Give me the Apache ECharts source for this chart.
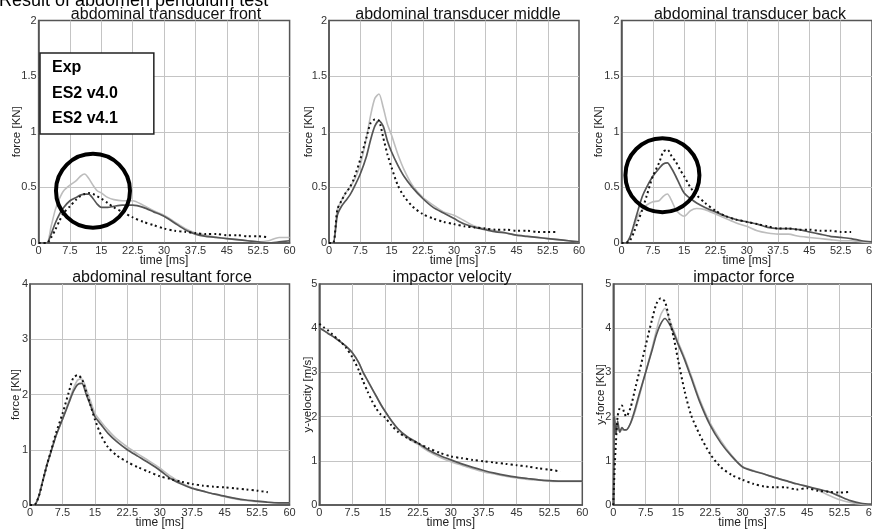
<!DOCTYPE html>
<html>
<head>
<meta charset="utf-8">
<script src="https://cdn.jsdelivr.net/npm/echarts@6/dist/echarts.min.js"></script>
<style>html,body{margin:0;padding:0;background:#fff}#c{width:872px;height:530px}</style>
</head>
<body>
<div id="c"></div>
<script>
// ---------- data ----------
const seriesNames = ['Exp', 'ES2 v4.0', 'ES2 v4.1'];
const xTicks = [0, 7.5, 15, 22.5, 30, 37.5, 45, 52.5, 60];
const panelTitles = ['abdominal transducer front', 'abdominal transducer middle', 'abdominal transducer back',
  'abdominal resultant force', 'impactor velocity', 'impactor force'];
const yNames = ['force [KN]', 'force [KN]', 'force [KN]', 'force [KN]', 'y-velocity [m/s]', 'y-force [KN]'];
const yMax = [2, 2, 2, 4, 5, 5];
const yStep = [0.5, 0.5, 0.5, 1, 1, 1];

const T = [0,1,2,3,4,5,6,7.5,9,10,11,12,13,14,15,16.5,18,20,22.5,25,27.5,30,32.5,35,37.5,40,42.5,45,47.5,50,52.5,55,57.5,60];

const frontExp = [0,0,0,0.05,0.12,0.2,0.27,0.33,0.39,0.42,0.44,0.45,0.44,0.42,0.4,0.36,0.32,0.28,0.23,0.19,0.16,0.13,0.11,0.1,0.09,0.08,0.08,0.07,0.07,0.06,0.06,0.05,null,null];
const frontV40 = [0,0,0,0.15,0.3,0.4,0.47,0.52,0.56,0.6,0.62,0.58,0.52,0.47,0.45,0.41,0.39,0.38,0.38,0.34,0.29,0.25,0.19,0.13,0.09,0.07,0.05,0.04,0.03,0.02,0.01,0.02,0.05,0.05];
const frontV41 = [0,0,0,0.08,0.18,0.26,0.32,0.38,0.41,0.43,0.44,0.44,0.4,0.35,0.32,0.32,0.33,0.34,0.34,0.32,0.28,0.24,0.18,0.12,0.08,0.06,0.05,0.04,0.03,0.02,0.01,0,0.01,0.02];

const middleExp = [0,0,0.3,0.38,0.45,0.5,0.58,0.75,0.95,1.08,1.11,1.1,0.95,0.8,0.68,0.52,0.42,0.33,0.26,0.22,0.19,0.17,0.15,0.14,0.13,0.12,0.12,0.11,0.11,0.1,0.1,0.1,null,null];
const middleV40 = [0,0,0.3,0.38,0.45,0.5,0.56,0.7,0.95,1.15,1.3,1.34,1.22,1.07,0.97,0.8,0.66,0.52,0.41,0.34,0.28,0.25,0.2,0.15,0.13,0.11,0.09,0.07,0.06,0.05,0.04,0.03,0.02,0.01];
const middleV41 = [0,0,0.25,0.33,0.38,0.43,0.5,0.62,0.78,0.93,1.05,1.1,1.05,0.92,0.82,0.7,0.6,0.5,0.4,0.32,0.27,0.22,0.17,0.14,0.12,0.1,0.09,0.07,0.06,0.05,0.04,0.03,0.02,0.01];

const backExp = [0,0,0.02,0.1,0.2,0.3,0.42,0.6,0.72,0.82,0.84,0.78,0.73,0.66,0.6,0.5,0.43,0.36,0.29,0.24,0.21,0.19,0.17,0.15,0.13,0.13,0.12,0.12,0.11,0.11,0.1,0.1,null,null];
const backV40 = [0,0,0.05,0.15,0.25,0.3,0.34,0.37,0.38,0.42,0.44,0.38,0.3,0.26,0.24,0.29,0.31,0.3,0.26,0.22,0.18,0.15,0.11,0.09,0.08,0.08,0.06,0.05,0.04,0.03,0.02,0.02,0.01,0];
const backV41 = [0,0,0.05,0.17,0.3,0.42,0.5,0.6,0.67,0.71,0.72,0.67,0.6,0.52,0.45,0.4,0.36,0.32,0.28,0.24,0.21,0.19,0.17,0.14,0.13,0.13,0.12,0.1,0.08,0.06,0.05,0.04,0.02,0.01];

const resultExp = [0,0,0.15,0.45,0.75,1.02,1.3,1.65,2.05,2.3,2.35,2.28,2.05,1.8,1.55,1.25,1.05,0.9,0.78,0.68,0.6,0.52,0.47,0.42,0.38,0.35,0.33,0.32,0.3,0.28,0.26,0.23,null,null];
const resultV40 = [0,0,0.15,0.45,0.75,1.0,1.25,1.55,1.88,2.1,2.26,2.28,2.1,1.88,1.66,1.5,1.36,1.2,1.05,0.92,0.8,0.67,0.52,0.4,0.31,0.25,0.2,0.15,0.11,0.08,0.06,0.05,0.04,0.04];
const resultV41 = [0,0,0.15,0.45,0.75,1.0,1.25,1.55,1.85,2.05,2.18,2.2,2.0,1.8,1.6,1.45,1.3,1.15,1.0,0.88,0.76,0.63,0.48,0.38,0.3,0.25,0.2,0.16,0.12,0.09,0.07,0.05,0.04,0.04];

const velocityExp = [4.1,4.02,3.95,3.86,3.77,3.68,3.57,3.35,3.05,2.8,2.57,2.36,2.18,2.05,1.98,1.8,1.65,1.52,1.4,1.28,1.18,1.1,1.06,1.02,0.99,0.96,0.93,0.9,0.87,0.83,0.8,0.76,null,null];
const velocityV40 = [4.0,3.95,3.88,3.82,3.75,3.68,3.6,3.45,3.22,3.0,2.82,2.64,2.46,2.28,2.12,1.9,1.7,1.52,1.37,1.21,1.08,0.98,0.9,0.82,0.75,0.7,0.65,0.61,0.58,0.56,0.54,0.53,0.53,0.53];
const velocityV41 = [4.0,3.95,3.88,3.82,3.75,3.68,3.6,3.45,3.22,3.0,2.82,2.64,2.46,2.28,2.12,1.9,1.72,1.55,1.4,1.24,1.12,1.02,0.93,0.85,0.78,0.72,0.67,0.63,0.6,0.57,0.55,0.54,0.54,0.54];

const T6 = [0,0.3,0.6,1,1.5,2,2.5,3,4,5,6,7.5,9,10,11,12,13,14,15,16.5,18,20,22.5,25,27.5,30,32.5,35,37.5,40,42.5,45,47.5,50,52.5,55,57.5,60];
const impactExp = [0,0.8,1.4,2.0,2.2,2.25,2.1,2.0,2.2,2.6,3.0,3.6,4.2,4.55,4.68,4.6,4.2,3.8,3.3,2.6,2.05,1.6,1.15,0.85,0.68,0.57,0.48,0.42,0.4,0.4,0.35,0.38,0.32,0.3,0.28,0.3,null,null];
const impactV40 = [0,1.9,1.6,1.8,1.65,1.7,1.7,1.7,1.85,2.1,2.45,3.0,3.55,3.95,4.3,4.45,4.2,3.95,3.7,3.35,2.95,2.4,1.85,1.45,1.12,0.87,0.78,0.7,0.62,0.55,0.48,0.42,0.34,0.22,0.12,0.06,0.02,0];
const impactV41 = [0,2.0,1.6,1.9,1.65,1.75,1.7,1.7,1.85,2.15,2.5,3.0,3.5,3.85,4.1,4.22,4.1,3.9,3.65,3.3,2.9,2.35,1.8,1.4,1.1,0.86,0.77,0.7,0.62,0.55,0.48,0.42,0.36,0.3,0.2,0.1,0.04,0.02];

const panelTimes = [T, T, T, T, T, T6];
const panelData = [
  [frontExp, frontV40, frontV41],
  [middleExp, middleV40, middleV41],
  [backExp, backV40, backV41],
  [resultExp, resultV40, resultV41],
  [velocityExp, velocityV40, velocityV41],
  [impactExp, impactV40, impactV41]
];

// highlighted regions (circle annotations): panel index, time, value
const circlePanel = [0, 2];
const circleT = [13.0, 9.8];
const circleV = [0.47, 0.61];

// ---------- layout / style ----------
const FONT = '"Liberation Sans", Arial, Helvetica, sans-serif';
const grids = [
  {left: 38.6, top: 20.5, width: 251, height: 222.5},
  {left: 329, top: 20.5, width: 250, height: 222.5},
  {left: 621.5, top: 20.5, width: 250.5, height: 222.5},
  {left: 30, top: 284, width: 259.5, height: 221},
  {left: 319.3, top: 284, width: 263, height: 221},
  {left: 613.3, top: 284, width: 258.5, height: 221}
];
const yNameGaps = [16, 14, 17, 8, 5.5, 6];
const titlePos = [[166, 14.5], [458, 14.5], [750, 14.5], [162, 277.5], [452, 277.5], [744, 277.5]];

const styles = [
  {color: '#111', width: 2, type: [2, 3]},
  {color: '#bdbdbd', width: 1.6, type: 'solid'},
  {color: '#555', width: 1.7, type: 'solid'}
];

const gridOpts = [], xAxes = [], yAxes = [], series = [], graphics = [];

grids.forEach((g, i) => {
  gridOpts.push(Object.assign({show: true, borderColor: '#555', borderWidth: 1.5, backgroundColor: '#fff',
    containLabel: false, outerBoundsMode: 'none'}, g));
  xAxes.push({
    type: 'value', gridIndex: i, min: 0, max: 60, interval: 7.5,
    name: 'time [ms]', nameLocation: 'middle', nameGap: 12, nameMoveOverlap: false,
    nameTextStyle: {fontFamily: FONT, fontSize: 12, color: '#222'},
    axisLine: {show: true, lineStyle: {color: '#555', width: 1.5}},
    axisTick: {show: false},
    axisLabel: {margin: 2, fontFamily: FONT, fontSize: 11, color: '#333', hideOverlap: false,
      formatter: v => (xTicks.indexOf(v) >= 0 ? String(v) : '')},
    splitLine: {show: true, showMinLine: false, showMaxLine: false, lineStyle: {color: '#c4c4c4', width: 1}}
  });
  yAxes.push({
    type: 'value', gridIndex: i, min: 0, max: yMax[i], interval: yStep[i],
    name: yNames[i], nameLocation: 'middle', nameGap: yNameGaps[i], nameMoveOverlap: false,
    nameTextStyle: {fontFamily: FONT, fontSize: 11.5, color: '#222'},
    axisLine: {show: true, lineStyle: {color: '#555', width: 1.5}},
    axisTick: {show: false},
    axisLabel: {margin: 2, fontFamily: FONT, fontSize: 11, color: '#333'},
    splitLine: {show: true, showMinLine: false, showMaxLine: false, lineStyle: {color: '#c4c4c4', width: 1}}
  });
  // draw light (v4.0), dark (v4.1), then dotted Exp on top
  [1, 2, 0].forEach(k => {
    const vals = panelData[i][k];
    const data = [];
    panelTimes[i].forEach((t, j) => { if (vals[j] !== null) data.push([t, vals[j]]); });
    series.push({
      type: 'line', name: seriesNames[k], xAxisIndex: i, yAxisIndex: i,
      data: data, showSymbol: false, smooth: 0.25, silent: true,
      lineStyle: {color: styles[k].color, width: styles[k].width, type: styles[k].type},
      itemStyle: {color: styles[k].color},
      z: 3 + (k === 0 ? 2 : k)
    });
  });
  graphics.push({
    type: 'text', x: titlePos[i][0], y: titlePos[i][1], z: 100,
    style: {text: panelTitles[i], font: '16px ' + FONT, fill: '#111', textAlign: 'center', textVerticalAlign: 'middle'}
  });
});

circlePanel.forEach((p, i) => {
  series.push({
    type: 'scatter', name: 'highlight', xAxisIndex: p, yAxisIndex: p,
    data: [[circleT[i], circleV[i]]], symbol: 'circle', symbolSize: 74, silent: true,
    itemStyle: {color: 'rgba(0,0,0,0)', borderColor: '#000', borderWidth: 4, opacity: 1}, z: 20
  });
});

graphics.push({
  type: 'text', x: -1, y: 1, z: 100,
  style: {text: 'Result of abdomen pendulum test', font: '18px ' + FONT, fill: '#000', textAlign: 'left', textVerticalAlign: 'middle'}
});

const chart = echarts.init(document.getElementById('c'), null, {renderer: 'canvas'});
chart.setOption({
  animation: false,
  backgroundColor: '#fff',
  grid: gridOpts,
  xAxis: xAxes,
  yAxis: yAxes,
  legend: {
    data: seriesNames, orient: 'vertical', left: 40, top: 53,
    itemWidth: 0, itemHeight: 0, icon: 'rect', itemGap: 9.5,
    itemStyle: {opacity: 0}, lineStyle: {opacity: 0},
    padding: [7, 36, 7, 7],
    borderColor: '#222', borderWidth: 1.5, backgroundColor: '#fff',
    selectedMode: false, z: 50,
    textStyle: {fontFamily: FONT, fontSize: 16, fontWeight: 'bold', color: '#000', padding: 0}
  },
  graphic: graphics,
  series: series
});
</script>
</body>
</html>
